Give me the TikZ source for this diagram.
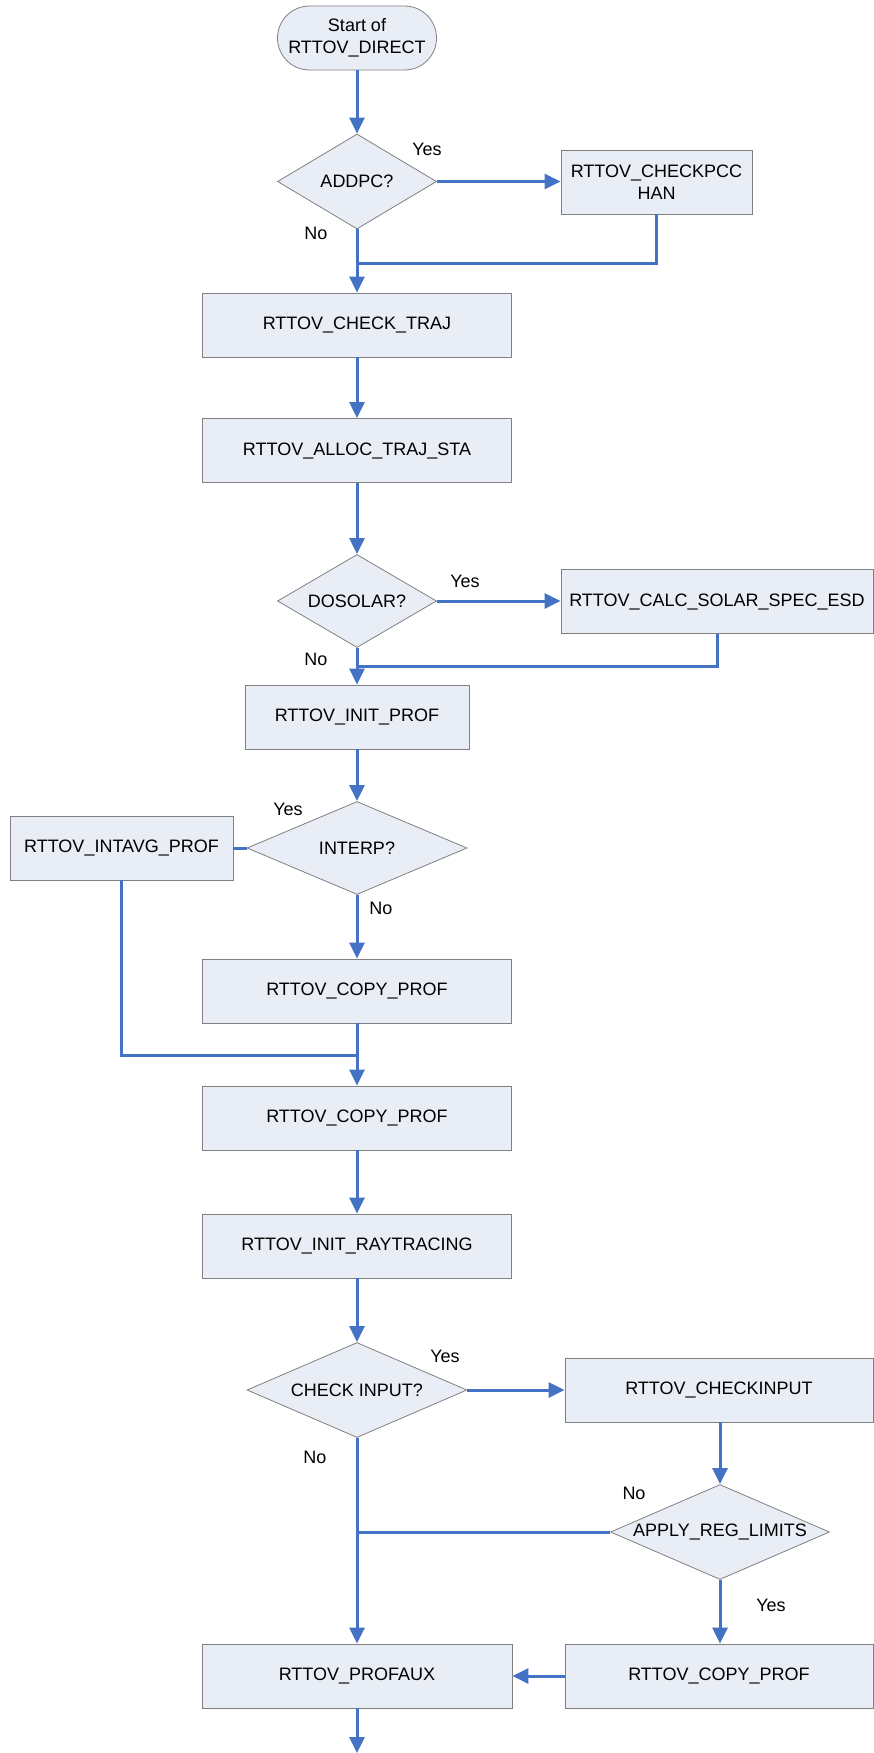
\documentclass[tikz,border=0pt]{standalone}
\usepackage{fontspec}
\setmainfont{Liberation Sans}
\usetikzlibrary{shapes.geometric,arrows.meta}
\definecolor{boxfill}{RGB}{233,237,245}
\definecolor{boxline}{RGB}{128,128,128}
\definecolor{flowblue}{RGB}{68,114,196}

\begin{document}
\begin{tikzpicture}[x=1pt,y=-1pt,>={Triangle[length=16pt,width=15pt]},font=\fontsize{18}{21.5}\selectfont,
  proc/.style={rectangle,draw=boxline,fill=boxfill,line width=0.8pt,minimum height=64pt,inner sep=0pt},
  decision/.style={diamond,draw=boxline,fill=boxfill,line width=0.8pt,inner sep=0pt},
  term/.style={rectangle,rounded corners=32pt,draw=boxline,fill=boxfill,line width=0.8pt,minimum width=159pt,minimum height=64pt,align=center},
  flow/.style={draw=flowblue,line width=3pt},
  lbl/.style={inner sep=0pt}]

                \useasboundingbox (0,0) rectangle (873,1753);

                \node[term]  (start) at (357,38) {Start of\\RTTOV\_DIRECT};
                \node[decision,minimum width=159pt,minimum height=95pt]  (addpc) at (357,181.5) {\makebox[0pt]{ADDPC?}};
                \node[proc,minimum width=191pt,align=center]  (checkpcc) at (656.5,182) {RTTOV\_CHECKPCC\\HAN};
                \node[proc,minimum width=309pt]  (checktraj) at (357,325) {RTTOV\_CHECK\_TRAJ};
                \node[proc,minimum width=309pt]  (alloc) at (357,450.5) {RTTOV\_ALLOC\_TRAJ\_STA};
                \node[decision,minimum width=159pt,minimum height=93pt]  (dosolar) at (357,601) {\makebox[0pt]{DOSOLAR?}};
                \node[proc,minimum width=312pt]  (solar) at (717,601.5) {RTTOV\_CALC\_SOLAR\_SPEC\_ESD};
                \node[proc,minimum width=224pt]  (initprof) at (357,717) {RTTOV\_INIT\_PROF};
                \node[decision,minimum width=220pt,minimum height=93pt]  (interp) at (357,848) {\makebox[0pt]{INTERP?}};
                \node[proc,minimum width=223pt]  (intavg) at (121.5,848) {RTTOV\_INTAVG\_PROF};
                \node[proc,minimum width=309pt]  (copya) at (357,991) {RTTOV\_COPY\_PROF};
                \node[proc,minimum width=309pt]  (copyb) at (357,1118) {RTTOV\_COPY\_PROF};
                \node[proc,minimum width=309pt]  (initray) at (357,1246) {RTTOV\_INIT\_RAYTRACING};
                \node[decision,minimum width=220pt,minimum height=95pt]  (chkin) at (357,1390) {\makebox[0pt]{CHECK INPUT?}};
                \node[proc,minimum width=308pt]  (checkinput) at (719,1390) {RTTOV\_CHECKINPUT};
                \node[decision,minimum width=219pt,minimum height=95pt]  (reglim) at (720,1532) {\makebox[0pt]{APPLY\_REG\_LIMITS}};
                \node[proc,minimum width=310pt]  (profaux) at (357,1676) {RTTOV\_PROFAUX};
                \node[proc,minimum width=308pt]  (copyc) at (719,1676) {RTTOV\_COPY\_PROF};

                \coordinate (j1) at (357,263);
                \coordinate (j2) at (357,666);
                \coordinate (j3) at (357,1055);
                \coordinate (j4) at (357,1532);
                \coordinate (end) at (357,1753);

                \node[lbl]  (yes1) at (427,149) {Yes};
                \node[lbl]  (no1) at (316,233) {No};
                \node[lbl]  (yes2) at (465,581) {Yes};
                \node[lbl]  (no2) at (316,659) {No};
                \node[lbl]  (yes3) at (288,809) {Yes};
                \node[lbl]  (no3) at (381,908) {No};
                \node[lbl]  (yes4) at (445,1356) {Yes};
                \node[lbl]  (no4) at (315,1457) {No};
                \node[lbl]  (no5) at (634,1493) {No};
                \node[lbl]  (yes5) at (771,1605) {Yes};

                \draw[flow,->] (start.south) to (addpc.north);
                \draw[flow,->] (addpc.east) to (addpc.east -| checkpcc.west);
                \draw[flow] (checkpcc.south) |- (j1);
                \draw[flow,->] (addpc.south) to (checktraj.north);
                \draw[flow,->] (checktraj.south) to (alloc.north);
                \draw[flow,->] (alloc.south) to (dosolar.north);
                \draw[flow,->] (dosolar.east) to (dosolar.east -| solar.west);
                \draw[flow] (solar.south -| 717,0) |- (j2);
                \draw[flow,->] (dosolar.south) to (initprof.north);
                \draw[flow,->] (initprof.south) to (interp.north);
                \draw[flow] (interp.west) to (intavg.east);
                \draw[flow,->] (interp.south) to (copya.north);
                \draw[flow] (intavg.south) |- (j3);
                \draw[flow,->] (copya.south) to (copyb.north);
                \draw[flow,->] (copyb.south) to (initray.north);
                \draw[flow,->] (initray.south) to (chkin.north);
                \draw[flow,->] (chkin.east) to (checkinput.west);
                \draw[flow,->] (chkin.south) to (profaux.north);
                \draw[flow,->] (checkinput.south -| reglim.north) to (reglim.north);
                \draw[flow] (reglim.west) to (j4);
                \draw[flow,->] (reglim.south) to (reglim.south |- copyc.north);
                \draw[flow,->] (copyc.west) to (profaux.east);
                \draw[flow,->] (profaux.south) to (end);

                ;
            \end{tikzpicture}
\end{document}
